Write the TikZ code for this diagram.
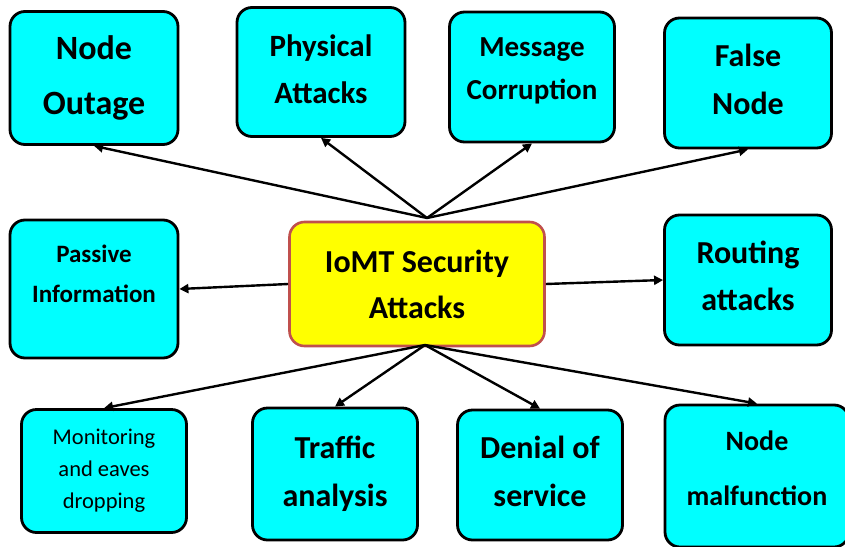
\documentclass[tikz,border=0pt]{standalone}
\usepackage{fontspec}
\setmainfont{Carlito}
\usepackage{tikz}
\usepackage{xcolor}
\usetikzlibrary{arrows.meta,positioning,calc}
\definecolor{boxfill}{HTML}{00FFFF}
\definecolor{hubfill}{HTML}{FFFF00}
\definecolor{hubline}{HTML}{C0504D}
\definecolor{ink}{HTML}{000000}
\tikzset{
  attack/.style={draw=ink, fill=boxfill, rounded corners=15pt, line width=2.8pt,
                 align=center, inner sep=4pt},
  hub/.style={draw=hubline, fill=hubfill, rounded corners=15pt, line width=2.6pt,
              align=center, inner sep=4pt},
  arrow/.style={-{Triangle[length=9pt,width=9pt]}, line width=2.4pt, draw=ink}
}

\begin{document}
\begin{tikzpicture}[x=1pt,y=-1pt]
    \clip (0,0) rectangle (845,546);
    \fill[white] (0,0) rectangle (845,546);
    % top row
    \node[attack,minimum width=168pt,minimum height=133pt,
      font=\bfseries\fontsize{34}{55}\selectfont] (outage) at (94,78) {Node\\Outage};
    \node[attack,minimum width=168pt,minimum height=129pt,text depth=6pt,
      font=\bfseries\fontsize{31}{47}\selectfont] (physical) at (321,72) {Physical\\Attacks};
    \node[attack,minimum width=165pt,minimum height=130pt,text depth=17pt,
      font=\bfseries\fontsize{29}{43}\selectfont] (message) at (532,77) {Message\\Corruption};
    \node[attack,minimum width=167pt,minimum height=130pt,text depth=8pt,
      font=\bfseries\fontsize{32}{48}\selectfont] (falsenode) at (748,83) {False\\Node};
    % middle row
    \node[attack,minimum width=168pt,minimum height=138pt,text depth=30pt,
      font=\bfseries\fontsize{25}{40}\selectfont] (passive) at (94,289) {Passive\\Information};
    \node[hub,minimum width=255pt,minimum height=124pt,
      font=\bfseries\fontsize{32}{46}\selectfont] (iomt) at (417,284) {IoMT Security\\Attacks};
    \node[attack,minimum width=167pt,minimum height=130pt,text depth=8pt,
      font=\bfseries\fontsize{32}{47}\selectfont] (routing) at (748,280) {Routing\\attacks};
    % bottom row
    \node[attack,minimum width=165pt,minimum height=123pt,
      font=\fontsize{22.5}{32}\selectfont] (monitor) at (104,471) {Monitoring\\and eaves\\dropping};
    \node[attack,minimum width=165pt,minimum height=132pt,
      font=\bfseries\fontsize{32}{48}\selectfont] (traffic) at (335,474) {Traffic\\analysis};
    \node[attack,minimum width=165pt,minimum height=130pt,text depth=8pt,
      font=\bfseries\fontsize{32}{48}\selectfont] (denial) at (540,475) {Denial of\\service};
    \node[attack,minimum width=184pt,minimum height=142pt,text depth=16pt,
      font=\bfseries\fontsize{28}{55}\selectfont] (malfunction) at (757,476) {Node\\malfunction};
    \coordinate (hubtop) at (427,218);
    \coordinate (hubbot) at (425,345);
    \draw[arrow] (hubtop) -- (outage.south);
    \draw[arrow] (hubtop) -- (physical.south);
    \draw[arrow] (hubtop) -- (message.south);
    \draw[arrow] (hubtop) -- (falsenode.south);
    \draw[arrow] (iomt.west) -- (passive.east);
    \draw[arrow] (iomt.east) -- (routing.west);
    \draw[arrow] (hubbot) -- (monitor.north);
    \draw[arrow] (hubbot) -- (traffic.north);
    \draw[arrow] (hubbot) -- (denial.north);
    \draw[arrow] (hubbot) -- (malfunction.north);
  \end{tikzpicture}
\end{document}
